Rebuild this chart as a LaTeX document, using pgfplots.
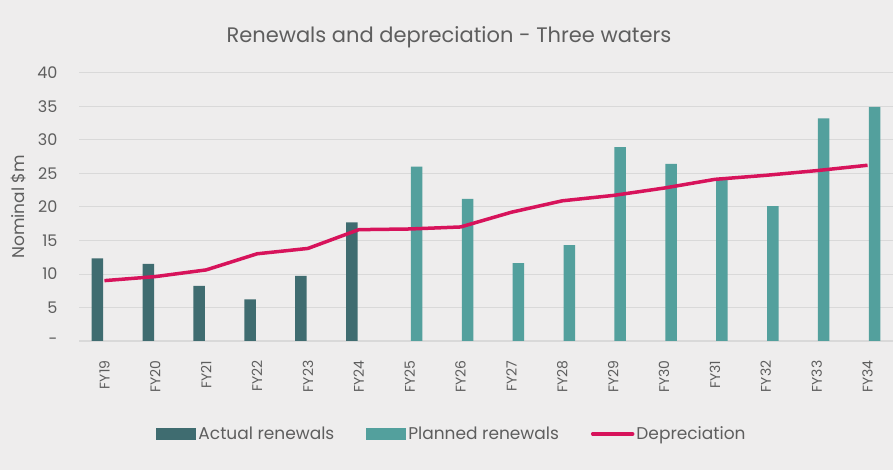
\documentclass[border=0pt]{standalone}
\usepackage{pgfplots}
\pgfplotsset{compat=1.18}
\usepackage{fontspec}
\setmainfont{Poppins}
\definecolor{bgc}{HTML}{EEEDED}
\definecolor{actualc}{HTML}{3F6C70}
\definecolor{plannedc}{HTML}{53A09D}
\definecolor{deprc}{HTML}{D7135B}
\definecolor{txtc}{HTML}{5E5E5E}
\definecolor{gridc}{HTML}{D9D9D9}
\begin{document}
\begin{tikzpicture}[x=1pt,y=1pt]
\fill[bgc] (0,0) rectangle (893,470);
\useasboundingbox (0,0) rectangle (893,470);
\begin{axis}[
  at={(79pt,129pt)}, anchor=south west,
  scale only axis, width=814pt, height=268.3pt,
  xmin=-0.5, xmax=15.5, ymin=0, ymax=40,
  axis line style={draw=none},
  axis x line*=bottom,
  x axis line style={draw=gridc, line width=1pt},
  ytick={0,5,...,40},
  yticklabels={-,5,10,15,20,25,30,35,40},
  ymajorgrids, grid style={gridc, line width=0.8pt},
  major tick length=0pt,
  xtick={0,...,15},
  xticklabels={FY19,FY20,FY21,FY22,FY23,FY24,FY25,FY26,FY27,FY28,FY29,FY30,FY31,FY32,FY33,FY34},
  xticklabel style={yshift=-16pt, rotate=90, anchor=east, font=\fontsize{14}{15}\selectfont, text=txtc},
  yticklabel style={font=\fontsize{16}{17}\selectfont, text=txtc, xshift=-18pt},
  ylabel={Nominal \$m},
  ylabel style={at={(axis description cs:-0.074,0.5)}, anchor=center, font=\fontsize{17}{18}\selectfont, text=txtc},
  title={Renewals and depreciation - Three waters},
  title style={at={(axis description cs:0.5,1)}, anchor=center, yshift=29pt, xshift=-37pt, font=\fontsize{21}{23}\selectfont, text=txtc},
  legend columns=3,
  legend style={at={(axis description cs:0.5,0)}, anchor=center, yshift=-93pt, xshift=-34pt,
    draw=none, fill=none, font=\fontsize{17}{19}\selectfont, text=txtc,
    /tikz/every even column/.append style={column sep=30pt}},
  legend cell align=left,
]
\addplot[ybar, bar width=11.5pt, bar shift=-7pt, fill=actualc, draw=none,
  legend image code/.code={\fill[actualc] (0pt,-6pt) rectangle (40pt,6pt);}]
  coordinates {(0,12.3) (1,11.5) (2,8.2) (3,6.2) (4,9.7) (5,17.7)};
\addlegendentry{Actual renewals}
\addplot[ybar, bar width=11.5pt, bar shift=7pt, fill=plannedc, draw=none,
  legend image code/.code={\fill[plannedc] (0pt,-6pt) rectangle (40pt,6pt);}]
  coordinates {(6,26.0) (7,21.2) (8,11.6) (9,14.3) (10,28.9) (11,26.4) (12,24.0) (13,20.1) (14,33.2) (15,34.9)};
\addlegendentry{Planned renewals}
\addplot[deprc, line width=3.5pt, mark=none, line join=round,
  legend image code/.code={\draw[deprc, line width=3.5pt, line cap=round] (0pt,0pt) -- (40pt,0pt);}]
  coordinates {(0,9.0) (1,9.6) (2,10.6) (3,13.0) (4,13.8) (5,16.6) (6,16.7) (7,17.0) (8,19.2) (9,20.9) (10,21.7) (11,22.8) (12,24.1) (13,24.7) (14,25.4) (15,26.2)};
\addlegendentry{Depreciation}
\end{axis}
\end{tikzpicture}
\end{document}
